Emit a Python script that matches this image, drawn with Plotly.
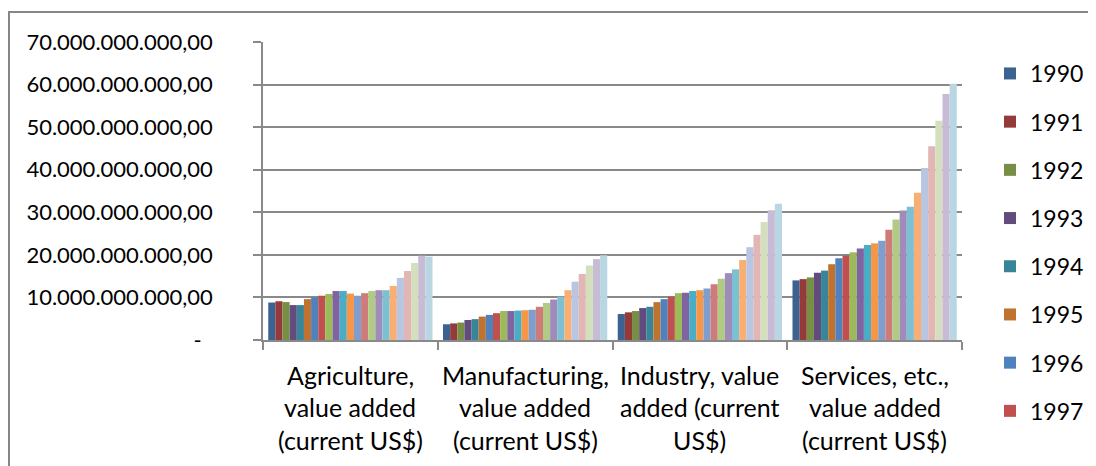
import plotly.graph_objects as go

years = [str(y) for y in range(1990, 2013)]
categories = ["Agriculture", "Manufacturing", "Industry", "Services"]
category_lines = [
    ["Agriculture,", "value added", "(current US$)"],
    ["Manufacturing,", "value added", "(current US$)"],
    ["Industry, value", "added (current", "US$)"],
    ["Services, etc.,", "value added", "(current US$)"],
]

# values in billions of current US$, one per year 1990..2012
agriculture = [8.8, 9.1, 8.9, 8.2, 8.2, 9.6, 10.0, 10.4, 10.8, 11.5, 11.5, 10.9,
               10.4, 11.0, 11.5, 11.7, 11.7, 12.7, 14.6, 16.2, 18.1, 19.8, 19.6]
manufacturing = [3.7, 3.9, 4.1, 4.7, 4.9, 5.5, 5.9, 6.3, 6.8, 6.8, 6.9, 7.0,
                 7.1, 7.8, 8.7, 9.5, 10.2, 11.7, 13.7, 15.5, 17.5, 19.0, 19.9]
industry = [6.1, 6.5, 6.8, 7.5, 7.8, 8.9, 9.6, 10.2, 11.0, 11.1, 11.5, 11.7,
            12.1, 13.1, 14.4, 15.7, 16.6, 18.8, 21.8, 24.7, 27.7, 30.5, 32.0]
services = [14.0, 14.3, 14.7, 15.8, 16.3, 17.8, 19.2, 19.8, 20.6, 21.5, 22.3, 22.7,
            23.3, 25.9, 28.3, 30.4, 31.3, 34.6, 40.4, 45.5, 51.5, 57.8, 60.2]

colors = [
    "#3C6291", "#943B39", "#778F45", "#614C7D", "#388599", "#C0732F",
    "#4F81BD", "#C0504D", "#9BBB59", "#8064A2", "#4BACC6", "#F79646",
    "#7E9FCD", "#CF7B79", "#B1CB85", "#A08CBA", "#7CC0D4", "#F9AE73",
    "#B8C6E1", "#E1B6B5", "#D4E0BD", "#C8BBD5", "#B8D7E2",
]

y_tickvals = [0, 10e9, 20e9, 30e9, 40e9, 50e9, 60e9, 70e9]
y_ticktext = ["-\u00a0\u00a0", "10.000.000.000,00", "20.000.000.000,00", "30.000.000.000,00",
              "40.000.000.000,00", "50.000.000.000,00", "60.000.000.000,00", "70.000.000.000,00"]

legend_years = years[:8]

FONT = "Lato"
GRID = "#898989"
# the page body has an 8px margin, so the figure is drawn offset by 8px
OFF = 8
W, H = 1096 - OFF, 466 - OFF

fig = go.Figure()
for i, yr in enumerate(years):
    vals = [agriculture[i], manufacturing[i], industry[i], services[i]]
    fig.add_trace(go.Bar(
        name=yr,
        x=categories,
        y=[v * 1e9 for v in vals],
        marker=dict(color=colors[i], line=dict(width=0)),
        legendgroup=yr,
        showlegend=yr in legend_years,
    ))

annotations = []
for cat, lines in zip(categories, category_lines):
    for j, line in enumerate(lines):
        annotations.append(dict(
            x=cat, xref="x", y=0, yref="paper",
            text=line, showarrow=False,
            xanchor="center", yanchor="middle",
            yshift=-(35 + 32.3 * j),
            font=dict(family=FONT, size=25, color="#000000"),
        ))

fig.update_layout(
    width=W, height=H,
    margin=dict(l=263 - OFF, r=134, t=42 - OFF, b=126, autoexpand=False),
    paper_bgcolor="white", plot_bgcolor="white",
    barmode="group", bargap=0.06, bargroupgap=0,
    font=dict(family=FONT, size=23, color="#000000"),
    showlegend=True,
    legend=dict(
        xref="container", yref="container",
        x=(990 - OFF) / W, xanchor="left", y=1 - (52 - OFF) / H, yanchor="top",
        font=dict(family=FONT, size=23, color="#000000"),
        tracegroupgap=15.3, traceorder="grouped",
        bgcolor="rgba(0,0,0,0)", maxheight=440,
    ),
    xaxis=dict(
        showgrid=False, showline=True, linecolor=GRID, linewidth=1.5,
        ticks="outside", tickson="boundaries", ticklen=8, tickcolor=GRID, tickwidth=1.5,
        showticklabels=False, zeroline=False, automargin=False,
    ),
    yaxis=dict(
        range=[0, 70e9], tickvals=y_tickvals, ticktext=y_ticktext,
        showgrid=True, gridcolor=GRID, gridwidth=1.5,
        showline=True, linecolor=GRID, linewidth=1.5,
        ticks="outside", ticklen=8, tickcolor=GRID, tickwidth=1.5,
        ticklabelstandoff=36, zeroline=False, automargin=False,
        tickfont=dict(family=FONT, size=22, color="#000000"),
    ),
    annotations=annotations,
    shapes=[dict(
        type="rect", xref="paper", yref="paper",
        x0=-0.3634, x1=1.3, y0=-0.6, y1=1.1007,
        line=dict(color="#868686", width=2), fillcolor="rgba(0,0,0,0)", layer="below",
    )],
)

fig.write_html("out.html")
